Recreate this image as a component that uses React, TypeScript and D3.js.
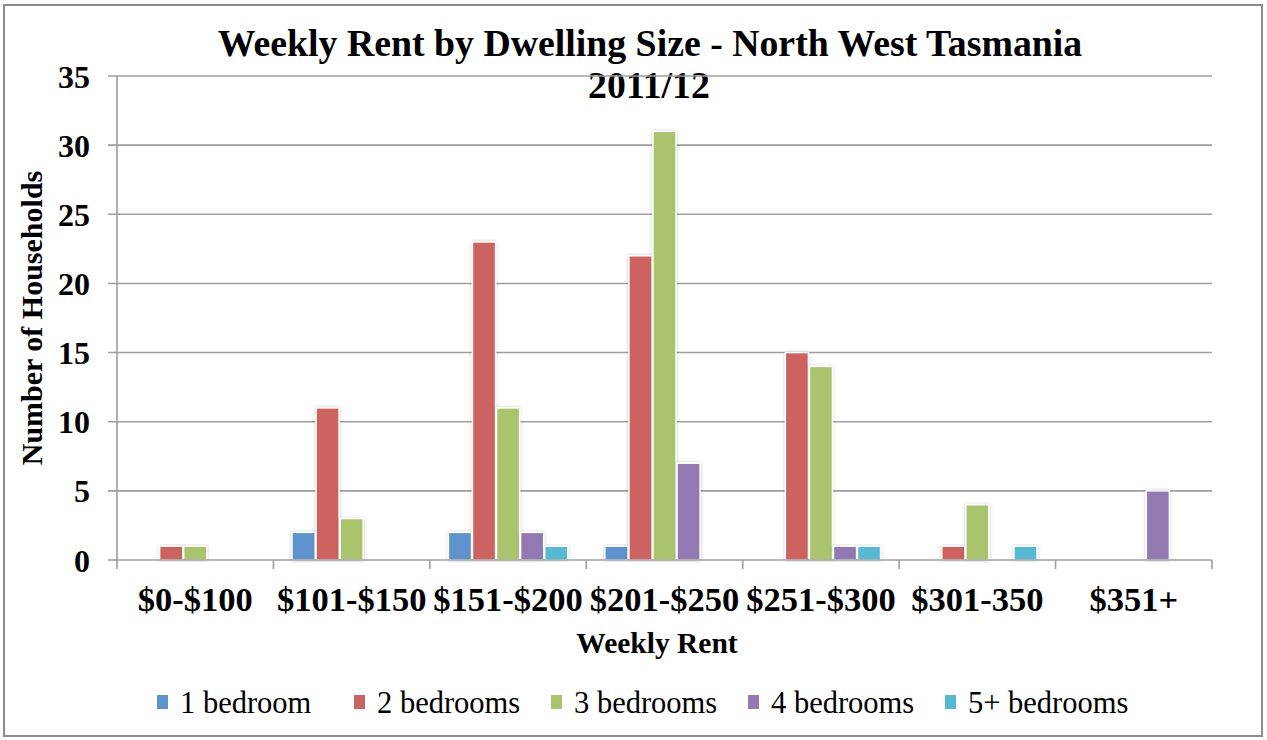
import React from "react";
import * as d3 from "d3";

const categories = ["$0-$100", "$101-$150", "$151-$200", "$201-$250", "$251-$300", "$301-350", "$351+"];
const seriesNames = ["1 bedroom", "2 bedrooms", "3 bedrooms", "4 bedrooms", "5+ bedrooms"];
const oneBedroom = [0, 2, 2, 1, 0, 0, 0];
const twoBedrooms = [1, 11, 23, 22, 15, 1, 0];
const threeBedrooms = [1, 3, 11, 31, 14, 4, 0];
const fourBedrooms = [0, 0, 2, 7, 1, 0, 5];
const fivePlusBedrooms = [0, 0, 1, 0, 1, 1, 0];
const yTicks = [0, 5, 10, 15, 20, 25, 30, 35];
const colors = ["#5F93CB", "#CC6460", "#A9C46D", "#9379B1", "#58B9D3"];

const seriesValues = [oneBedroom, twoBedrooms, threeBedrooms, fourBedrooms, fivePlusBedrooms];

const W = 1267;
const H = 740;
const left = 117;
const right = 1212;
const top = 76;
const bottom = 560;
const serif = "'Liberation Serif', 'Times New Roman', serif";
const grid = "#9e9e9e";

export default function App() {
  const x0 = d3.scaleBand<string>().domain(categories).range([left, right]).paddingInner(0).paddingOuter(0);
  const bw = x0.bandwidth();
  const y = d3.scaleLinear().domain([0, 35]).range([bottom, top]);

  const inner = bw / (seriesNames.length + 1.5);
  const off = inner * 0.75;

  return (
    <svg
      width={W}
      height={H}
      style={{ position: "absolute", left: 0, top: 0, background: "#fff" }}
      fontFamily={serif}
    >
      <defs>
        <filter id="sh" x="-30%" y="-10%" width="160%" height="120%">
          <feDropShadow dx="0" dy="0" stdDeviation="1.6" floodColor="#000" floodOpacity="0.25" />
        </filter>
      </defs>
      <rect x={0} y={0} width={W} height={H} fill="#fff" />
      <rect x={4} y={5} width={1258} height={731} fill="none" stroke="#8c8c8c" strokeWidth={2} />

      {/* title */}
      <text x={650} y={56} textAnchor="middle" fontWeight="bold" fontSize={37.8}>
        Weekly Rent by Dwelling Size - North West Tasmania
      </text>
      <text x={649} y={98} textAnchor="middle" fontWeight="bold" fontSize={37.8}>
        2011/12
      </text>

      {/* gridlines */}
      {yTicks.map((t) => (
        <g key={t}>
          {t > 0 && <line x1={left - 9} x2={right} y1={y(t)} y2={y(t)} stroke={grid} strokeWidth={1.6} />}
          {t === 0 && <line x1={left - 9} x2={left} y1={y(t)} y2={y(t)} stroke={grid} strokeWidth={1.6} />}
          <text x={90} y={y(t)} dy="0.36em" textAnchor="end" fontWeight="bold" fontSize={32}>
            {t}
          </text>
        </g>
      ))}
      <line x1={left} x2={left} y1={top} y2={bottom} stroke={grid} strokeWidth={1.6} />

      {/* bars */}
      {categories.map((c, ci) => (
        <g key={c}>
          {seriesValues.map((vals, si) => {
            const v = vals[ci];
            if (!v) return null;
            const bx = (x0(c) as number) + off + si * inner;
            return (
              <rect
                key={si}
                x={bx + 0.5}
                y={y(v)}
                width={inner - 1}
                height={y(0) - y(v)}
                fill={colors[si]}
                stroke="#fff"
                strokeWidth={1.5}
                filter="url(#sh)"
              />
            );
          })}
        </g>
      ))}

      {/* x axis */}
      <line x1={left} x2={right} y1={bottom} y2={bottom} stroke={grid} strokeWidth={1.6} />
      {categories.concat([""]).map((c, i) => {
        const xx = i < categories.length ? (x0(c) as number) : right;
        return <line key={"t" + i} x1={xx} x2={xx} y1={bottom} y2={bottom + 9} stroke={grid} strokeWidth={1.6} />;
      })}
      {categories.map((c) => (
        <text
          key={"l" + c}
          x={(x0(c) as number) + bw / 2}
          y={611}
          textAnchor="middle"
          fontWeight="bold"
          fontSize={34.5}
        >
          {c}
        </text>
      ))}

      <text x={657} y={653} textAnchor="middle" fontWeight="bold" fontSize={29.5}>
        Weekly Rent
      </text>
      <text
        transform={`translate(42, 318) rotate(-90)`}
        textAnchor="middle"
        fontWeight="bold"
        fontSize={30}
      >
        Number of Households
      </text>

      {/* legend */}
      {seriesNames.map((n, i) => {
        const lx = 157 + i * 197;
        return (
          <g key={n}>
            <rect x={lx} y={695} width={11} height={14} fill={colors[i]} />
            <text x={lx + 23} y={713} fontSize={30.5}>
              {n}
            </text>
          </g>
        );
      })}
    </svg>
  );
}
